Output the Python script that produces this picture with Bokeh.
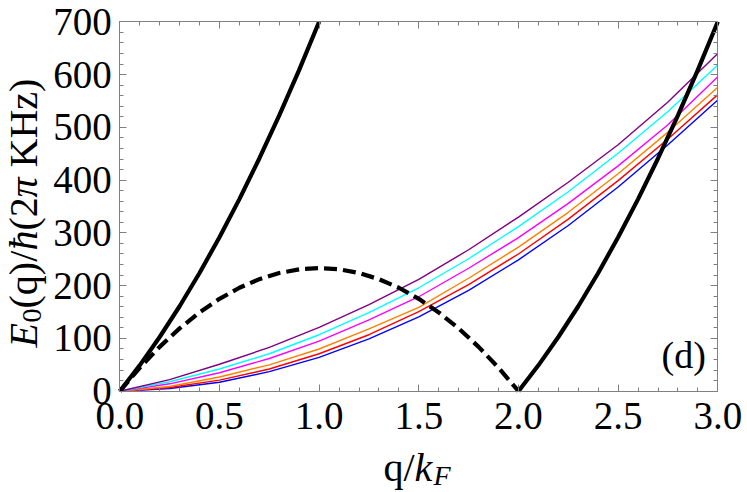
import math
from bokeh.plotting import figure
from bokeh.models import Range1d, LinearAxis, FixedTicker, PrintfTickFormatter, Label
from bokeh.embed import file_html
from bokeh.resources import INLINE

# ---- data ----
q_mode = [0.0, 0.25, 0.5, 0.75, 1.0, 1.25, 1.5, 1.75, 2.0, 2.25, 2.5, 2.75, 3.0]
e_purple = [0, 22, 51, 83, 121, 164, 212, 268, 330, 396, 467, 548, 640]
e_cyan = [0, 18, 42, 71, 107, 149, 196, 251, 312, 378, 451, 530, 618]
e_magenta = [0, 14, 35, 62, 95, 135, 179, 233, 291, 356, 427, 505, 596]
e_orange = [0, 9, 27, 50, 80, 118, 159, 214, 273, 339, 412, 491, 576]
e_red = [0, 7, 21, 42, 71, 107, 151, 202, 260, 326, 399, 478, 562]
e_blue = [0, 5, 17, 37, 64, 99, 141, 191, 249, 314, 387, 467, 552]

q_upper = [0.0, 0.1, 0.2, 0.3, 0.4, 0.5, 0.6, 0.7, 0.8, 0.9, 1.0]
e_upper = [0, 49.0, 102.7, 161.0, 224.0, 291.7, 364.0, 441.0, 522.7, 609.0, 700.0]

q_dash = [0.0, 0.1, 0.2, 0.3, 0.4, 0.5, 0.6, 0.7, 0.8, 0.9, 1.0,
          1.1, 1.2, 1.3, 1.4, 1.5, 1.6, 1.7, 1.8, 1.9, 2.0]
e_dash = [0, 44.3, 84.0, 119.0, 149.3, 175.0, 196.0, 212.3, 224.0, 231.0, 233.3,
          231.0, 224.0, 212.3, 196.0, 175.0, 149.3, 119.0, 84.0, 44.3, 0]

q_lower = [2.0, 2.1, 2.2, 2.3, 2.4, 2.5, 2.6, 2.7, 2.8, 2.9, 3.0]
e_lower = [0, 49.0, 102.7, 161.0, 224.0, 291.7, 364.0, 441.0, 522.7, 609.0, 700.0]

x_major = [0.0, 0.5, 1.0, 1.5, 2.0, 2.5, 3.0]
x_minor = [i / 10 for i in range(31)]
y_major = [0, 100, 200, 300, 400, 500, 600, 700]
y_minor = list(range(0, 701, 20))

FONT = "Liberation Serif"
AXIS_GRAY = "#808080"

W, H = 745, 490
# plot box in canvas pixels
BOX_L, BOX_R, BOX_T, BOX_B = 119.3, 717.3, 21.3, 390.7
sx = (BOX_R - BOX_L) / 3.0
sy = (BOX_B - BOX_T) / 700.0
x_start = -BOX_L / sx
x_end = 3.0 + (W - BOX_R) / sx
y_end = 700.0 + BOX_T / sy
y_start = -(H - BOX_B) / sy

p = figure(width=W, height=H, x_range=Range1d(x_start, x_end), y_range=Range1d(y_start, y_end),
           output_backend="svg", toolbar_location=None,
           min_border_left=0, min_border_right=0, min_border_top=0, min_border_bottom=0)
p.grid.visible = False
p.outline_line_color = None
p.background_fill_color = "white"
p.border_fill_color = "white"

def style_axis(ax, ticks, minor, show_labels, loc, bounds, standoff=8):
    ax.ticker = FixedTicker(ticks=ticks, minor_ticks=minor)
    ax.fixed_location = loc
    ax.bounds = bounds
    ax.axis_line_color = AXIS_GRAY
    ax.major_tick_line_color = AXIS_GRAY
    ax.minor_tick_line_color = AXIS_GRAY
    ax.major_tick_in = 7
    ax.major_tick_out = 0
    ax.minor_tick_in = 4
    ax.minor_tick_out = 0
    ax.axis_label = None
    if show_labels:
        ax.major_label_text_font = FONT
        ax.major_label_text_font_size = "39px"
        ax.major_label_text_color = "black"
        ax.major_label_standoff = standoff
    else:
        ax.major_label_overrides = {t: "" for t in ticks}
        ax.major_label_standoff = 0

xa = p.xaxis[0]
style_axis(xa, x_major, x_minor, True, 0, (0, 3), standoff=12)
xa.formatter = PrintfTickFormatter(format="%.1f")
ya = p.yaxis[0]
style_axis(ya, y_major, y_minor, True, 0, (0, 700), standoff=8)

top_ax = LinearAxis()
style_axis(top_ax, x_major, x_minor, False, 700, (0, 3))
p.add_layout(top_ax, "above")
right_ax = LinearAxis()
style_axis(right_ax, y_major, y_minor, False, 3, (0, 700))
p.add_layout(right_ax, "right")

# collective mode curves
for e, c in [(e_blue, "#0000FF"), (e_red, "#FF0000"), (e_orange, "#FF8000"),
             (e_magenta, "#FF00FF"), (e_cyan, "#00FFFF"), (e_purple, "#800080")]:
    p.line(q_mode, e, line_color=c, line_width=1.4)

# continuum boundaries
p.line(q_upper, e_upper, line_color="black", line_width=4.2)
p.line(q_lower, e_lower, line_color="black", line_width=4.2)
p.line(q_dash, e_dash, line_color="black", line_width=4.2, line_dash="13 6")

p.add_layout(Label(x=2.94, y=68, text="(d)", text_font=FONT, text_font_size="38px",
                   text_align="right", text_baseline="alphabetic", text_color="black"))

# axis label pieces; positions in canvas pixels (x from left, y from top)
def piece(text, px, py, size, italic, angle=0.0):
    p.add_layout(Label(x=px, y=H - py, x_units="screen", y_units="screen", text=text,
                       text_font=FONT, text_font_size=f"{size}px",
                       text_font_style="italic" if italic else "normal",
                       text_align="left", text_baseline="alphabetic",
                       angle=angle, text_color="black"))

bx = 23
by = 347
rot = math.pi / 2
piece("E", bx, by, 40, True, rot)
piece("0", bx + 8, by - 25, 28, False, rot)
piece("(q)/", bx, by - 39, 40, False, rot)
piece("ħ", bx, by - 97, 40, True, rot)
piece("(2", bx, by - 117, 40, False, rot)
piece("π", bx, by - 150, 40, True, rot)
piece("KHz)", bx, by - 180, 40, False, rot)

xl = 383
yb = 467
piece("q/", xl, yb, 40, False)
piece("k", xl + 31, yb, 40, True)
piece("F", xl + 50, yb + 8, 28, True)

open("out.html", "w").write(file_html(p, INLINE))
